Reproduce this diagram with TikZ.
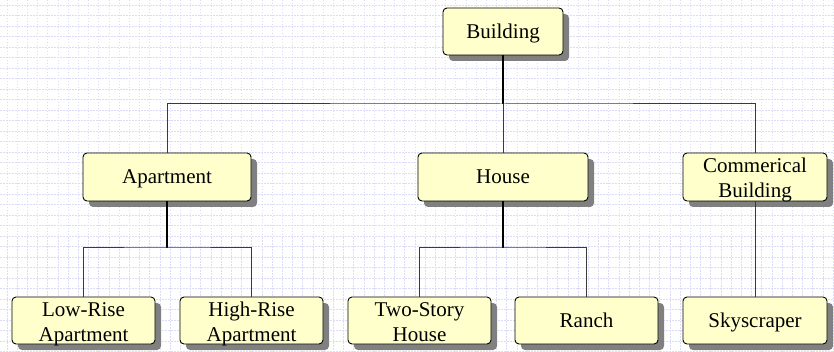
\documentclass[tikz,border=0pt]{standalone}
\usepackage{fontspec}
\setmainfont{Liberation Serif}
\definecolor{boxfill}{HTML}{FFFFCC}
\definecolor{gridc}{HTML}{DCDCF8}
\definecolor{shadowc}{HTML}{808080}
\definecolor{busc}{HTML}{3A3A3A}
\begin{document}
\begin{tikzpicture}[x=1pt,y=-1pt,
  box/.style={draw=black, line width=0.9pt, fill=boxfill, rounded corners=4pt,
    align=center, inner sep=0pt, font=\fontsize{21}{24.5}\selectfont},
  oneline/.style={text height=14pt, text depth=0pt},
  twoline/.style={text height=41pt, text depth=0pt},
  stem/.style={line width=2pt, black},
  bus/.style={line width=1pt, busc}]
\useasboundingbox (0,0) rectangle (834,352);
\fill[white] (0,0) rectangle (834,352);
\foreach \i in {0,...,81} {
  \draw[gridc, line width=0.7pt, dash pattern=on 1.5pt off 1.5pt] (7+\i*10.2,0) -- (7+\i*10.2,352);
}
\foreach \j in {0,...,34} {
  \draw[gridc, line width=0.7pt, dash pattern=on 1.5pt off 1.5pt] (0,5+\j*10.5) -- (834,5+\j*10.5);
}
% shadows
\foreach \a/\b/\c/\d in {443/8/563/55, 83/153/251/201, 418/153/588/201, 683/153/827/201,
  12/297/155/344, 180/297/323/344, 348/297/491/344, 515/297/658/344, 683/297/827/344} {
  \fill[shadowc, rounded corners=4pt] (\a+6,\b+6) rectangle (\c+6,\d+6);
}
% nodes
\node[box, oneline, minimum width=120pt, minimum height=47pt] (bld) at (503,31.5) {Building};
\node[box, oneline, minimum width=168pt, minimum height=48pt] (apt) at (167,177) {Apartment};
\node[box, oneline, minimum width=170pt, minimum height=48pt] (hse) at (503,177) {House};
\node[box, twoline, minimum width=144pt, minimum height=48pt] (com) at (755,177) {Commerical\\Building};
\node[box, twoline, minimum width=143pt, minimum height=47pt] (low) at (83.5,320.5) {Low-Rise\\Apartment};
\node[box, twoline, minimum width=143pt, minimum height=47pt] (high) at (251.5,320.5) {High-Rise\\Apartment};
\node[box, twoline, minimum width=143pt, minimum height=47pt] (two) at (419.5,320.5) {Two-Story\\House};
\node[box, oneline, minimum width=143pt, minimum height=47pt] (ranch) at (586.5,320.5) {Ranch};
\node[box, oneline, minimum width=144pt, minimum height=47pt] (sky) at (755,320.5) {Skyscraper};
% bus coordinates
\coordinate (b1) at (503,104);
\coordinate (b2) at (167,248);
\coordinate (b3) at (503,248);
% connectors
\draw[stem] (bld.south) -- (b1);
\draw[bus] (apt.north) |- (b1) -| (com.north);
\draw[bus] (hse.north) -- (b1);
\draw[stem] (apt.south) -- (b2);
\draw[bus] (low.north) |- (b2) -| (high.north);
\draw[stem] (hse.south) -- (b3);
\draw[bus] (two.north) |- (b3) -| (ranch.north);
\draw[bus] (com.south) -- (sky.north);
\end{tikzpicture}
\end{document}
